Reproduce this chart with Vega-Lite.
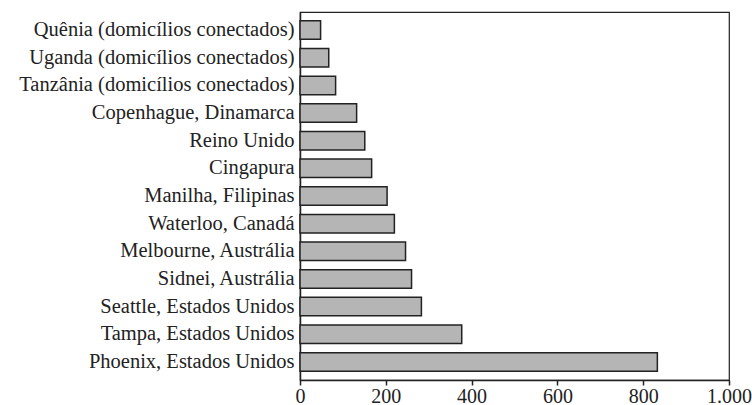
{
  "$schema": "https://vega.github.io/schema/vega-lite/v6.json",
  "width": 429,
  "height": 368,
  "autosize": {"type": "none"},
  "padding": {"left": 300, "top": 12, "right": 23, "bottom": 25},
  "background": "white",
  "config": {
    "font": "Liberation Serif",
    "axis": {"labelFont": "Liberation Serif"},
    "view": {"stroke": "#222", "strokeWidth": 1.2},
    "locale": {"number": {"decimal": ",", "thousands": ".", "grouping": [3], "currency": ["R$", ""]}}
  },
  "data": {
    "values": [
      {"local": "Quênia (domicílios conectados)", "valor": 48},
      {"local": "Uganda (domicílios conectados)", "valor": 67},
      {"local": "Tanzânia (domicílios conectados)", "valor": 83},
      {"local": "Copenhague, Dinamarca", "valor": 132},
      {"local": "Reino Unido", "valor": 151},
      {"local": "Cingapura", "valor": 167},
      {"local": "Manilha, Filipinas", "valor": 203},
      {"local": "Waterloo, Canadá", "valor": 220},
      {"local": "Melbourne, Austrália", "valor": 246},
      {"local": "Sidnei, Austrália", "valor": 260},
      {"local": "Seattle, Estados Unidos", "valor": 283},
      {"local": "Tampa, Estados Unidos", "valor": 377},
      {"local": "Phoenix, Estados Unidos", "valor": 833}
    ]
  },
  "mark": {"type": "bar", "fill": "#b5b5b5", "stroke": "#222", "strokeWidth": 1.5},
  "encoding": {
    "y": {
      "field": "local",
      "type": "nominal",
      "sort": {"field": "valor", "order": "ascending"},
      "scale": {"paddingInner": 0.33, "paddingOuter": 0.32},
      "axis": {
        "title": null,
        "ticks": false,
        "labelPadding": 6,
        "labelFont": "Liberation Serif",
        "labelFontSize": 20.5,
        "labelColor": "#222",
        "domainColor": "#222",
        "domainWidth": 1.5,
        "labelLimit": 0
      }
    },
    "x": {
      "field": "valor",
      "type": "quantitative",
      "scale": {"domain": [0, 1000], "nice": false},
      "axis": {
        "title": null,
        "values": [0, 200, 400, 600, 800, 1000],
        "format": ",d",
        "grid": false,
        "tickSize": 5,
        "tickColor": "#222",
        "tickWidth": 1.5,
        "domainColor": "#222",
        "domainWidth": 1.5,
        "labelFont": "Liberation Serif",
        "labelFontSize": 20,
        "labelColor": "#222",
        "labelPadding": 1,
        "labelFlush": false
      }
    }
  }
}
